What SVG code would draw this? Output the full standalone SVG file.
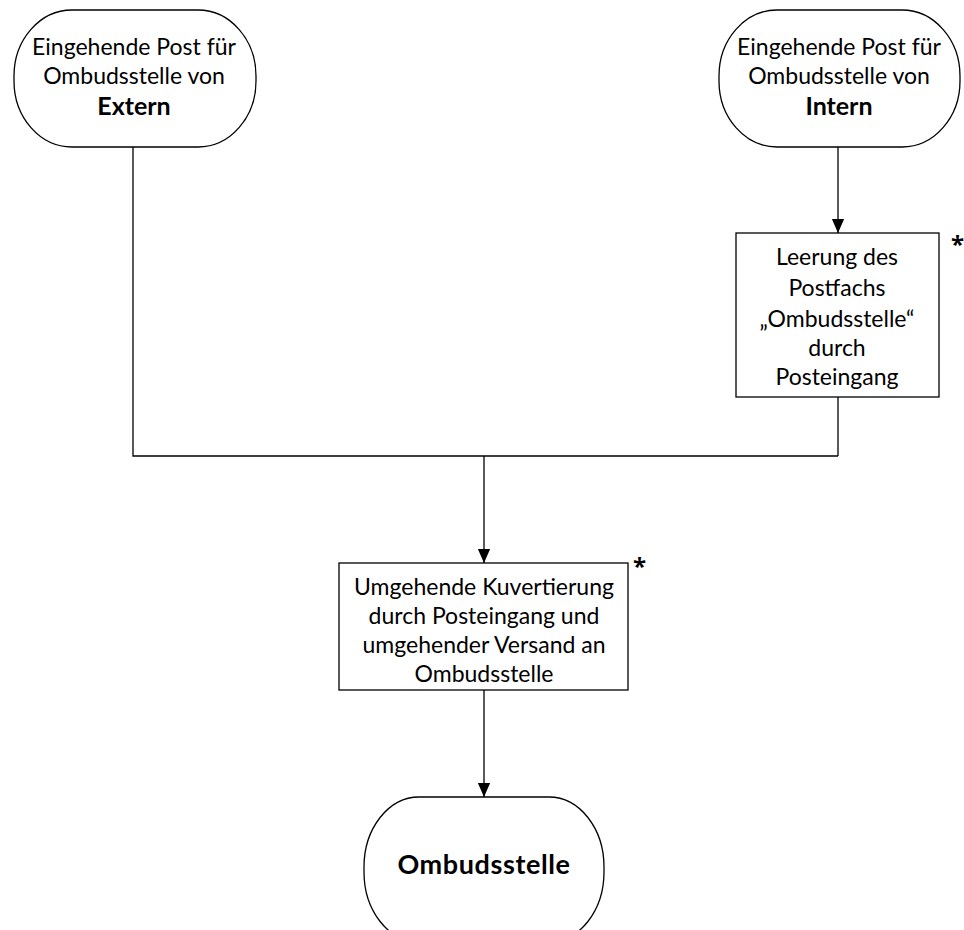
<svg xmlns="http://www.w3.org/2000/svg" width="964" height="930" viewBox="0 0 964 930">
<style>
.sh{fill:#fff;stroke:#000;stroke-width:1.3}
.t{font-family:Lato,"Open Sans",sans-serif;font-size:23px;fill:#000;text-anchor:middle}
.b{font-weight:bold;font-size:25px}
.ln{fill:none;stroke:#000;stroke-width:1.3}
.st{font-family:"Open Sans",sans-serif;font-size:24px;font-weight:bold;fill:#000}
</style>
<defs>
<marker id="arr" markerWidth="14" markerHeight="16" refX="16" refY="7" orient="auto" markerUnits="userSpaceOnUse" viewBox="0 0 16 14">
<path d="M0,0 L16,7 L0,14 Z" fill="#000"/>
</marker>
</defs>
<g id="connectors">
<path class="ln" d="M133,147 V456 H838"/>
<path class="ln" d="M838,147 V233" marker-end="url(#arr)"/>
<path class="ln" d="M838,397 V456"/>
<path class="ln" d="M484,456 V563" marker-end="url(#arr)"/>
<path class="ln" d="M484,690 V797" marker-end="url(#arr)"/>
</g>
<g id="extern">
<rect class="sh" x="14" y="10" width="242" height="137" rx="58" ry="66"/>
<text class="t" x="134" y="55">Eingehende Post für</text>
<text class="t" x="134" y="84">Ombudsstelle von</text>
<text class="t b" x="134" y="115">Extern</text>
</g>
<g id="intern">
<rect class="sh" x="719" y="10" width="241" height="137" rx="58" ry="66"/>
<text class="t" x="839" y="55">Eingehende Post für</text>
<text class="t" x="839" y="84">Ombudsstelle von</text>
<text class="t b" x="839" y="115">Intern</text>
</g>
<g id="leerung">
<rect class="sh" x="736" y="233" width="203" height="164"/>
<text class="t" x="837" y="265">Leerung des</text>
<text class="t" x="837" y="296">Postfachs</text>
<text class="t" x="837" y="327">„Ombudsstelle“</text>
<text class="t" x="837" y="356">durch</text>
<text class="t" x="837" y="385">Posteingang</text>
<text class="st" x="951" y="253">*</text>
</g>
<g id="kuvert">
<rect class="sh" x="339" y="563" width="289" height="127"/>
<text class="t" x="484" y="595">Umgehende Kuvertierung</text>
<text class="t" x="484" y="624">durch Posteingang und</text>
<text class="t" x="484" y="653">umgehender Versand an</text>
<text class="t" x="484" y="682">Ombudsstelle</text>
<text class="st" x="633" y="575">*</text>
</g>
<g id="ombudsstelle">
<rect class="sh" x="364" y="797" width="240" height="145" rx="55" ry="70"/>
<text class="t b" x="484" y="874" style="font-size:27px;letter-spacing:0.6px">Ombudsstelle</text>
</g>
</svg>
